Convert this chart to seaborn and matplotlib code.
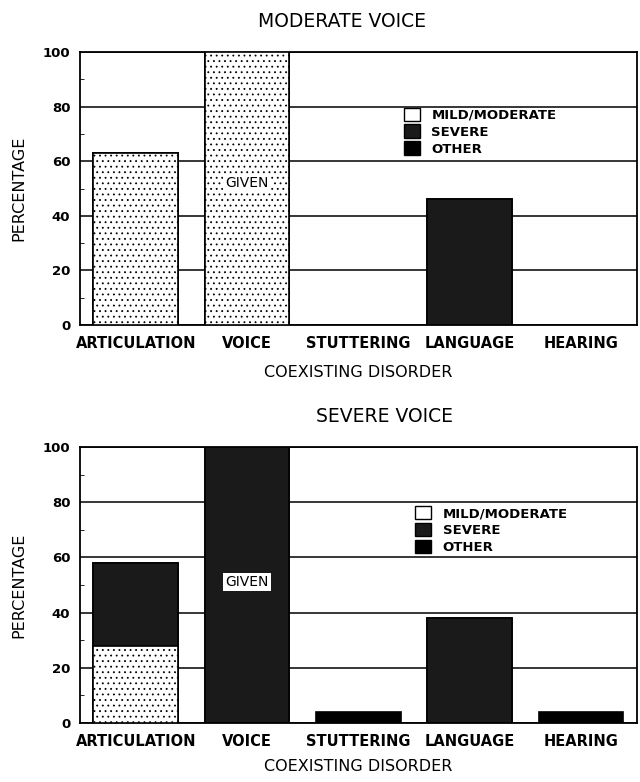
import matplotlib
matplotlib.use('Agg')
import matplotlib.pyplot as plt
import matplotlib.patches as mpatches
import seaborn as sns
import pandas as pd

disorders = ['ARTICULATION', 'VOICE', 'STUTTERING', 'LANGUAGE', 'HEARING']
severity = ['MILD/MODERATE', 'SEVERE', 'OTHER']

# moderate voice group
mod_mild = [63, 100, 0, 0, 0]
mod_severe = [0, 0, 0, 46, 0]
mod_other = [0, 0, 0, 0, 0]

# severe voice group
sev_mild = [28, 0, 0, 0, 0]
sev_severe = [30, 100, 0, 38, 0]
sev_other = [0, 0, 4, 0, 4]

given_y = [52, 51]

mild_col = 'white'
severe_col = '#1a1a1a'
other_col = 'black'

sns.set_style('ticks')
plt.rcParams['font.family'] = ['DejaVu Sans']
plt.rcParams['hatch.linewidth'] = 0.6
for key in ['text.color', 'axes.labelcolor', 'xtick.color', 'ytick.color']:
    plt.rcParams[key] = 'black'


def draw_panel(ax, mild, severe, other, gy, legend_anchor, xpad):
    df = pd.DataFrame({'disorder': disorders, 'mild': mild,
                       'severe': severe, 'other': other})
    df['upto_severe'] = df['mild'] + df['severe']
    df['total'] = df['upto_severe'] + df['other']

    kw = dict(x='disorder', width=0.76, saturation=1, edgecolor='black',
              linewidth=1.2, ax=ax, zorder=3)
    sns.barplot(data=df, y='total', color=other_col, **kw)
    sns.barplot(data=df, y='upto_severe', color=severe_col, **kw)
    sns.barplot(data=df, y='mild', color=mild_col, hatch='...', **kw)

    ax.set_ylim(0, 100)
    ax.set_yticks(range(0, 101, 20))
    ax.set_yticks(range(10, 100, 20), minor=True)
    ax.yaxis.grid(True, color='black', linewidth=1.1)
    ax.set_axisbelow(True)
    ax.tick_params(axis='y', which='major', length=0, pad=7, labelsize=9.5)
    ax.tick_params(axis='y', which='minor', direction='in', length=3)
    ax.tick_params(axis='x', length=0, pad=8, labelsize=10.5)
    for lab in ax.get_xticklabels() + ax.get_yticklabels():
        lab.set_fontweight('bold')
    for sp in ax.spines.values():
        sp.set_visible(True)
        sp.set_color('black')
        sp.set_linewidth(1.3)

    ax.set_ylabel('PERCENTAGE', fontsize=11.5, labelpad=12)
    ax.set_xlabel('COEXISTING DISORDER', fontsize=11.5, labelpad=xpad)

    ax.text(1, gy, 'GIVEN', ha='center', va='center', fontsize=10,
            family='Liberation Sans Narrow', zorder=5,
            bbox=dict(facecolor='white', edgecolor='none', pad=1.5))

    handles = [mpatches.Patch(facecolor=mild_col, edgecolor='black'),
               mpatches.Patch(facecolor=severe_col, edgecolor='black'),
               mpatches.Patch(facecolor=other_col, edgecolor='black')]
    leg = ax.legend(handles, severity, loc='upper left',
                    bbox_to_anchor=legend_anchor, frameon=False,
                    handlelength=1.2, handleheight=1.2, handletextpad=0.9,
                    labelspacing=0.2, fontsize=9.5)
    for t in leg.get_texts():
        t.set_fontweight('bold')


fig = plt.figure(figsize=(6.4, 7.82), dpi=100)
ax1 = fig.add_axes([0.125, 0.5844, 0.87, 0.349])
ax2 = fig.add_axes([0.125, 0.0754, 0.87, 0.353])

draw_panel(ax1, mod_mild, mod_severe, mod_other, given_y[0], (0.56, 0.84), 10)
draw_panel(ax2, sev_mild, sev_severe, sev_other, given_y[1], (0.58, 0.83), 7)

fig.text(0.535, 0.972, 'MODERATE VOICE', ha='center', va='center', fontsize=13.5)
fig.text(0.6, 0.467, 'SEVERE VOICE', ha='center', va='center', fontsize=13.5)

fig.savefig('out.png', dpi=100)
